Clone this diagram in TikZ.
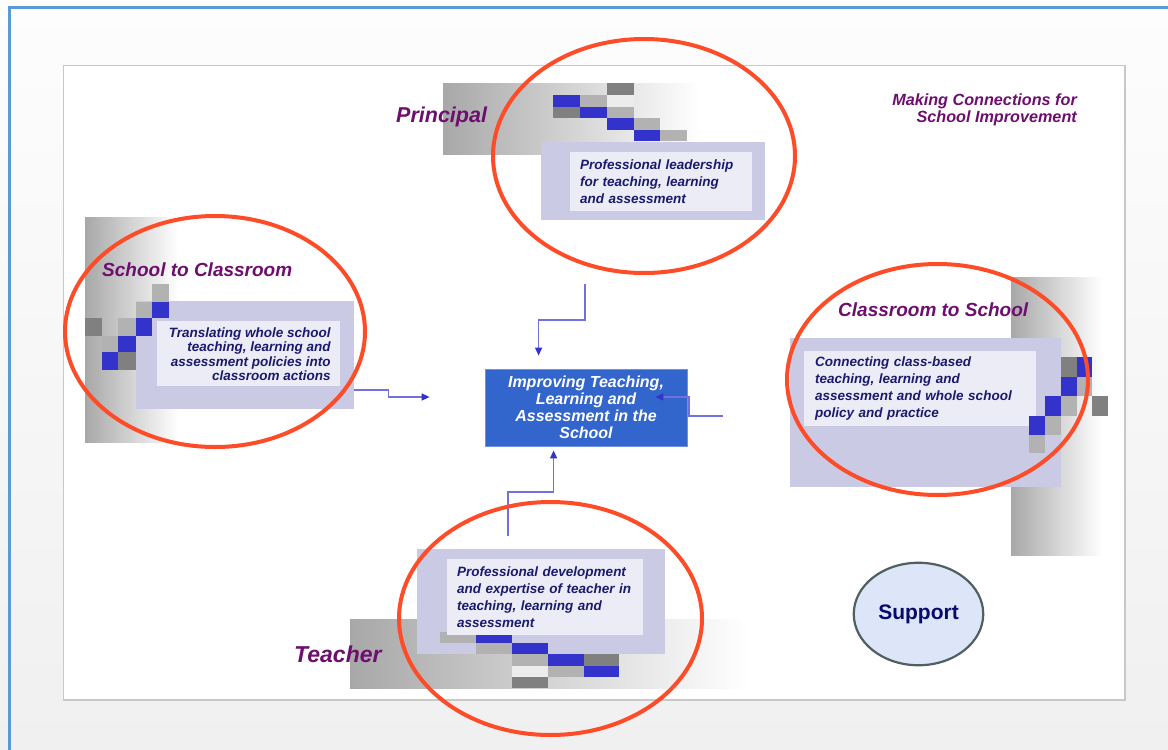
\documentclass[tikz,border=0pt]{standalone}
\usepackage{fontspec}
\setmainfont{Liberation Sans}
\usetikzlibrary{arrows.meta,calc,shapes.geometric}

\definecolor{bgtop}{RGB}{253,253,253}
\definecolor{bgbot}{RGB}{240,240,240}
\definecolor{frameblue}{RGB}{91,155,213}
\definecolor{slideedge}{RGB}{200,200,200}
\definecolor{barg}{RGB}{168,168,168}
\definecolor{sqblue}{RGB}{51,51,204}
\definecolor{sqdark}{RGB}{128,128,128}
\definecolor{sqlight}{RGB}{178,178,178}
\definecolor{sqpale}{RGB}{236,236,236}
\definecolor{outerfill}{RGB}{202,202,228}
\definecolor{innerfill}{RGB}{236,236,246}
\definecolor{navytext}{RGB}{26,26,110}
\definecolor{labelpurple}{RGB}{110,14,110}
\definecolor{ringred}{RGB}{255,76,40}
\definecolor{centerblue}{RGB}{51,102,204}
\definecolor{centeredge}{RGB}{110,145,225}
\definecolor{connline}{RGB}{112,112,222}
\definecolor{conntip}{RGB}{51,51,204}
\definecolor{suppfill}{RGB}{220,230,248}
\definecolor{suppedge}{RGB}{80,95,95}
\definecolor{supptext}{RGB}{10,10,110}

\newcommand\chk[5]{\fill[#1] (#2,#3) rectangle (#4,#5);}

\tikzset{
  outerbox/.style={fill=outerfill, draw=none, anchor=north west, inner sep=0pt},
  innerbox/.style={fill=innerfill, draw=none, anchor=north west, text=navytext,
    font=\bfseries\itshape\fontsize{13.5}{17}\selectfont, inner ysep=0pt},
  grouplabel/.style={text=labelpurple, font=\bfseries\itshape\fontsize{19}{22}\selectfont, inner sep=0pt},
  conn/.style={draw=connline, line width=1.4pt, -{Triangle[length=8pt,width=7pt,color=conntip]}},
  ring/.style={draw=ringred, line width=4pt},
  centerbox/.style={fill=centerblue, draw=centeredge, line width=0.8pt, text=white, align=center,
    font=\bfseries\itshape\fontsize{16}{17}\selectfont, inner sep=0pt},
  supportnode/.style={ellipse, draw=suppedge, line width=2.2pt, fill=suppfill, text=supptext,
    font=\bfseries\fontsize{21}{24}\selectfont, inner sep=0pt}
}

\begin{document}
\begin{tikzpicture}[x=1pt,y=-1pt]
\useasboundingbox (0,0) rectangle (1168,750);
% background and frame
\shade[top color=bgtop, bottom color=bgbot] (0,0) rectangle (1168,750);
\draw[frameblue, line width=3pt] (9,750) -- (9,7) -- (1168,7);
\draw[slideedge, line width=1.2pt, fill=white] (63.5,65.5) rectangle (1125,700);

% ---------- Principal ----------
\shade[left color=barg, right color=white] (443,83) rectangle (700,154);
\chk{sqdark}{606.7}{83}{633.5}{95}
\chk{sqblue}{553.3}{95}{580}{106.7}
\chk{sqlight}{580}{95}{606.7}{106.7}
\chk{sqpale}{606.7}{95}{633.5}{106.7}
\chk{sqdark}{553.3}{106.7}{580}{118.3}
\chk{sqblue}{580}{106.7}{606.7}{118.3}
\chk{sqlight}{606.7}{106.7}{633.5}{118.3}
\chk{sqblue}{606.7}{118.3}{633.5}{129.7}
\chk{sqlight}{633.5}{118.3}{660.2}{129.7}
\chk{sqblue}{633.5}{129.7}{660.2}{141}
\chk{sqlight}{660.2}{129.7}{686.9}{141}
\node[outerbox, minimum width=224pt, minimum height=78pt] (pout) at (541,142) {};
\node[innerbox, minimum height=59pt, text width=162pt, inner xsep=10pt, align=left] (ptext) at (570,152)
  {Professional leadership\\for teaching, learning\\and assessment};
\node[grouplabel, font=\bfseries\itshape\fontsize{21.5}{24}\selectfont, anchor=base west] (plabel) at (396,122.3) {Principal};

% ---------- School to Classroom ----------
\shade[left color=barg, right color=white] (85,217) rectangle (178,442);
\node[outerbox, minimum width=218pt, minimum height=108pt] (sout) at (136,301) {};
\chk{sqlight}{152.3}{284}{169}{301.7}
\chk{sqlight}{135.7}{301.7}{152.3}{318.3}
\chk{sqblue}{152.3}{301.7}{169}{318.3}
\chk{sqdark}{85}{318.3}{101.7}{335.7}
\chk{sqlight}{118.3}{318.3}{135.7}{335.7}
\chk{sqblue}{135.7}{318.3}{152.3}{335.7}
\chk{sqlight}{101.7}{335.7}{118.3}{352.3}
\chk{sqblue}{118.3}{335.7}{135.7}{352.3}
\chk{sqblue}{101.7}{352.3}{118.3}{370}
\chk{sqdark}{118.3}{352.3}{135.7}{370}
\node[innerbox, inner sep=0pt, minimum width=183pt, minimum height=65pt] (sbox) at (157,321) {};
\node[text=navytext, font=\bfseries\itshape\fontsize{13.5}{14.3}\selectfont, align=right, anchor=east, inner sep=0pt] (stext) at ($(sbox.east)+(-9.5,0.5)$)
  {Translating whole school\\teaching, learning and\\assessment policies into\\classroom actions};
\node[grouplabel, anchor=base west] (slabel) at (102,276) {School to Classroom};

% ---------- Classroom to School ----------
\shade[left color=barg, right color=white] (1011,277) rectangle (1102,555);
\node[outerbox, minimum width=271pt, minimum height=149pt] (cout) at (790,338) {};
\node[innerbox, minimum height=75pt, text width=210pt, inner xsep=11pt, align=left] (ctext) at (804,351)
  {Connecting class-based\\teaching, learning and\\assessment and whole school\\policy and practice};
\chk{sqdark}{1061}{357}{1077}{376.5}
\chk{sqblue}{1077}{357}{1092}{376.5}
\chk{sqblue}{1061}{376.5}{1077}{396}
\chk{sqlight}{1077}{376.5}{1092}{396}
\chk{sqblue}{1045}{396}{1061}{416}
\chk{sqlight}{1061}{396}{1077}{416}
\chk{sqdark}{1092}{396}{1108}{416}
\chk{sqblue}{1029}{416}{1045}{435}
\chk{sqlight}{1045}{416}{1061}{435}
\chk{sqlight}{1029}{435}{1045}{453}
\node[grouplabel, anchor=base west] (clabel) at (838,316.7) {Classroom to School};

% ---------- Teacher ----------
\shade[left color=barg, right color=white] (350,619) rectangle (748,688);
\node[outerbox, minimum width=248pt, minimum height=105pt] (tout) at (417,549) {};
\chk{sqlight}{440}{632}{476}{643}
\chk{sqblue}{476}{632}{512}{643}
\chk{sqlight}{476}{643}{512}{654}
\chk{sqblue}{512}{643}{548}{654}
\chk{sqlight}{512}{654}{548}{666}
\chk{sqblue}{548}{654}{584}{666}
\chk{sqdark}{584}{654}{619}{666}
\chk{sqpale}{512}{666}{548}{677}
\chk{sqlight}{548}{666}{584}{677}
\chk{sqblue}{584}{666}{619}{677}
\chk{sqdark}{512}{677}{548}{688}
\node[innerbox, minimum height=76pt, text width=176pt, inner xsep=10pt, align=left] (ttext) at (447,559)
  {Professional development\\and expertise of teacher in\\teaching, learning and\\assessment};
\node[grouplabel, font=\bfseries\itshape\fontsize{23}{26}\selectfont, anchor=base west] (tlabel) at (294,662) {Teacher};

% ---------- centre ----------
\node[centerbox, minimum width=202pt, minimum height=77pt] (cbox) at (586,407.5)
  {Improving Teaching,\\Learning and\\Assessment in the\\School};

% ---------- connectors ----------
\coordinate (topstart) at (585,284);
\coordinate (rightstart) at (723,416);
\coordinate (botstart) at (508,536);
\coordinate (leftstart) at ($(sout.north east)+(0,89)$);
\coordinate (topend) at ($(cbox.north west)+(54,-13)$);
\coordinate (leftend) at ($(cbox.west)+(-55,-10.5)$);
\coordinate (rightend) at ($(cbox.east)+(-32,-10.5)$);
\coordinate (botend) at ($(cbox.south west)+(69,4)$);
\draw[conn] (topstart) -- ++(0,36) -| (topend);
\draw[conn] (leftstart) -- ++(34,0) |- (leftend);
\draw[conn] (rightstart) -- ++(-34,0) |- (rightend);
\draw[conn] (botstart) -- ++(0,-44) -| (botend);

% ---------- red rings ----------
\draw[ring] (644,156) ellipse [x radius=151pt, y radius=117pt];
\draw[ring] (215,331.5) ellipse [x radius=150pt, y radius=115.5pt];
\draw[ring] (937.5,379.5) ellipse [x radius=150.5pt, y radius=115.5pt];
\draw[ring] (550.5,618.5) ellipse [x radius=151.5pt, y radius=116.5pt];

% ---------- support ----------
\node[supportnode, minimum width=129.5pt, minimum height=102.5pt] (support) at (918.5,614) {Support};

% ---------- heading ----------
\node[text=labelpurple, font=\bfseries\itshape\fontsize{16.2}{17}\selectfont, align=right, anchor=east, inner sep=0pt] (heading) at (1077,109.5)
  {Making Connections for\\School Improvement};
\end{tikzpicture}
\end{document}
